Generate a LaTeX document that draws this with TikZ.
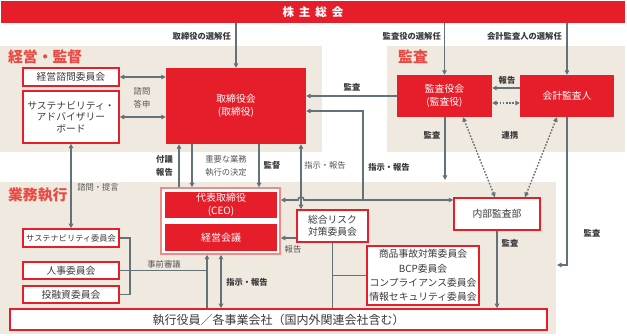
\documentclass[tikz,border=0pt]{standalone}
\usepackage{fontspec}
\setmainfont{Noto Sans CJK JP}
\usetikzlibrary{arrows.meta}
\definecolor{myred}{HTML}{E61E2A}
\definecolor{beige}{HTML}{F0E9E0}
\definecolor{linegray}{HTML}{627279}
\definecolor{headred}{HTML}{EA4A43}
\definecolor{pinkb}{HTML}{F08A84}
\definecolor{txtgray}{HTML}{3A3A3A}
\definecolor{lblgray}{HTML}{555555}
\begin{document}
\begin{tikzpicture}[x=1pt,y=-1pt,
 redbox/.style={fill=myred, draw=none, text=white, align=center, font=\fontsize{9.8}{13}\selectfont, inner sep=0pt},
 whitebox/.style={fill=white, draw=myred, line width=1.5pt, text=txtgray, align=center, font=\fontsize{9.8}{12.5}\selectfont, inner sep=0pt},
 conn/.style={draw=linegray, line width=1.6pt},
 arr/.style={conn, -{Triangle[length=4.5pt,width=4.5pt]}},
 darr/.style={conn, {Triangle[length=4.5pt,width=4.5pt]}-{Triangle[length=4.5pt,width=4.5pt]}},
 dotarr/.style={draw=linegray, line width=1.4pt, dash pattern=on 1.6pt off 1.6pt, {Triangle[length=4.5pt,width=4.5pt]}-{Triangle[length=4.5pt,width=4.5pt]}},
 lbl/.style={text=lblgray, font=\fontsize{8.3}{13}\selectfont, inner sep=0pt, align=center},
 lblb/.style={text=txtgray, font=\fontsize{8.3}{13}\selectfont\bfseries, inner sep=0pt, align=center},
 head/.style={text=headred, font=\fontsize{14.8}{16}\selectfont\bfseries, inner sep=0pt, anchor=west},
]
\useasboundingbox (0,0) rectangle (627,336);
\fill[white] (0,0) rectangle (627,336);
% regions
\fill[beige] (0,46) rectangle (322,152);
\fill[beige] (387,46) rectangle (625,152);
\fill[beige] (0,182) rectangle (556,334);
\node[head] (hk) at (8,57) {経営・監督};
\node[head] (ha) at (398,57) {監査};
\node[head] (hg) at (8,195) {業務執行};
% banner
\node[fill=myred, minimum width=624pt, minimum height=22pt, inner sep=0pt, text=white, font=\fontsize{11.5}{12}\selectfont\bfseries] (banner) at (313,12) {株\hspace{5pt}主\hspace{5pt}総\hspace{5pt}会};
% nodes
\node[whitebox, minimum width=96pt, minimum height=18pt] (shimon) at (71,77) {経営諮問委員会};
\node[whitebox, minimum width=96pt, minimum height=52pt, font=\fontsize{9.8}{11.8}\selectfont] (board) at (71,117) {サステナビリティ・\\アドバイザリー\\ボード};
\node[redbox, minimum width=140pt, minimum height=76pt] (tori) at (236,106) {取締役会\\(取締役)};
\node[redbox, minimum width=95pt, minimum height=42pt] (kansa) at (444.5,96) {監査役会\\(監査役)};
\node[redbox, minimum width=94pt, minimum height=42pt] (kaikei) at (567,96) {会計監査人};
\node[whitebox, minimum width=86pt, minimum height=32pt] (naibu) at (497,214) {内部監査部};
\node[fill=white, draw=pinkb, line width=1.5pt, minimum width=119pt, minimum height=66pt, inner sep=0pt] (ceog) at (220.5,221) {};
\node[redbox, minimum width=112pt, minimum height=26pt, font=\fontsize{10}{12.5}\selectfont] (ceo) at (221,205) {代表取締役\\(CEO)};
\node[redbox, minimum width=112pt, minimum height=27pt, font=\fontsize{10}{12.5}\selectfont] (kaigi) at (221,237.5) {経営会議};
\node[whitebox, minimum width=71pt, minimum height=32pt] (risk) at (332.5,226) {総合リスク\\対策委員会};
\node[whitebox, minimum width=112pt, minimum height=59pt, font=\fontsize{9.8}{14.3}\selectfont] (comm) at (423,275.5) {商品事故対策委員会\\BCP委員会\\コンプライアンス委員会\\情報セキュリティ委員会};
\node[whitebox, minimum width=96pt, minimum height=18pt, font=\fontsize{8.2}{10}\selectfont] (sc) at (71,238) {サステナビリティ委員会};
\node[whitebox, minimum width=96pt, minimum height=17pt] (jinji) at (71,270.5) {人事委員会};
\node[whitebox, minimum width=96pt, minimum height=17pt] (toyu) at (71,294.5) {投融資委員会};
\node[whitebox, minimum width=537pt, minimum height=21pt, font=\fontsize{12}{14}\selectfont] (shikko) at (278.5,319.5) {執行役員／各事業会社（国内外関連会社含む）};
% coordinates
\coordinate (j1) at (363,111);
\coordinate (j2) at (363,200);
\coordinate (gt) at (445,180);
\coordinate (gr) at (557,265);
\coordinate (xa) at (301,0);
\coordinate (xf) at (179,0);
\coordinate (xj) at (192,0);
\coordinate (xk) at (259,0);
\coordinate (xb) at (130,0);
\coordinate (xc) at (207,0);
\coordinate (xd) at (221,0);
\coordinate (yk) at (0,265);
\coordinate (yr) at (0,238);
% top arrows
\draw[arr] (banner.south -| tori) -- (tori.north);
\draw[arr] (banner.south -| kansa) -- (kansa.north);
\draw[arr] (banner.south -| kaikei) -- (kaikei.north);
\node[lblb, anchor=east] (l1) at (231,36) {取締役の選解任};
\node[lblb, anchor=east] (l2) at (441,36) {監査役の選解任};
\node[lblb, anchor=east] (l3) at (562,36) {会計監査人の選解任};
% keiei
\draw[darr] (shimon.east) -- (shimon.east -| tori.west);
\draw[darr] (board.east) -- (board.east -| tori.west);
\node[lbl] (l4) at (142,97.5) {諮問\\答申};
% kansa
\draw[arr] (kansa.west) -- (kansa.west -| tori.east);
\node[lblb] (l5) at (352,87) {監査};
\draw[arr] ([yshift=8pt]kaikei.west) -- ([yshift=8pt]kaikei.west -| kansa.east);
\node[lblb] (l6) at (507,80) {報告};
\draw[dotarr] ([yshift=-7pt]kansa.east) -- ([yshift=-7pt]kaikei.west);
\node[lblb] (l7) at (510,135) {連携};
\draw[arr] (kansa.south -| gt) -- (gt);
\node[lblb] (l8) at (432,135) {監査};
\draw[arr] (kaikei.south) -- (kaikei.south |- yk) -- (gr);
\node[lblb] (l9) at (592,233) {監査};
\draw[dotarr] ([xshift=-2pt]naibu.north) -- ([xshift=18.5pt]kansa.south);
\draw[dotarr] ([xshift=28pt]naibu.north) -- ([xshift=-10pt]kaikei.south);
\draw[arr] (naibu.south) -- (naibu.south |- shikko.north);
\node[lblb] (l10) at (510,243) {監査};
% instruction network
\draw[arr] (j2) -- (j1) -- (tori.east |- j1);
\draw[darr] (ceog.east |- j2) -- (298,200) arc[start angle=180, end angle=360, radius=3] -- (naibu.west |- j2);
\node[lblb] (l11) at (389,167) {指示・報告};
\draw[darr] (tori.south -| xa) -- (risk.north -| xa);
\node[lbl] (l12) at (325,165) {指示・報告};
% tori - ceo
\draw[arr] (ceog.north -| xf) -- (tori.south -| xf);
\draw[arr] (tori.south -| xj) -- (ceog.north -| xj);
\draw[arr] (tori.south -| xk) -- (ceog.north -| xk);
\node[lblb] (l13) at (164.5,165.5) {付議\\報告};
\node[lbl] (l14) at (226,165.5) {重要な業務\\執行の決定};
\node[lblb] (l15) at (272,165) {監督};
% risk
\draw[arr] (risk.west |- yr) -- (ceog.east |- yr);
\node[lbl] (l16) at (293,249) {報告};
\draw[conn] (risk.south) -- (risk.south |- shikko.north);
\draw[conn] (comm.west) -- (comm.west -| risk.south);
% left
\draw[darr] (board.south) -- (sc.north);
\node[lbl] (l17) at (98,187) {諮問・提言};
\draw[conn] (sc.east) -- (sc.east -| xb) -- (toyu.east -| xb) -- (toyu.east);
\draw[conn] (jinji.east) -- (jinji.east -| xc);
\draw[arr] (shikko.north -| xc) -- (ceog.south -| xc);
\node[lbl] (l18) at (164,264) {事前審議};
\draw[darr] (shikko.north -| xd) -- (ceog.south -| xd);
\node[lblb] (l19) at (247,282) {指示・報告};
\end{tikzpicture}
\end{document}
